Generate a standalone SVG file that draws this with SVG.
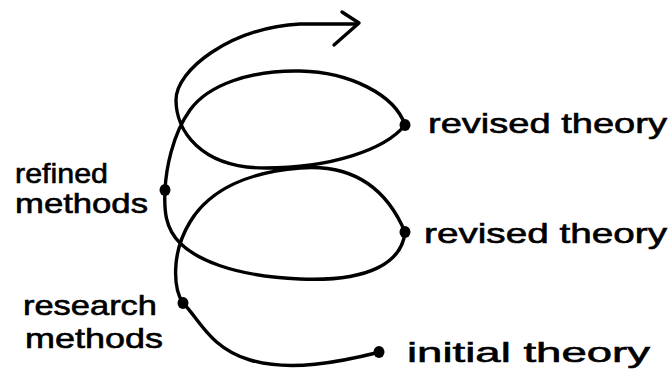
<svg xmlns="http://www.w3.org/2000/svg" width="670" height="379" viewBox="0 0 670 379">
<style>
.lbl{font-family:"Liberation Sans","DejaVu Sans",sans-serif;font-size:28px;fill:#000;stroke:#000;stroke-width:0.6}
.curve{fill:none;stroke:#000;stroke-width:3.4;stroke-linecap:round;stroke-linejoin:round}
.dot{fill:#000}
</style>
<rect width="670" height="379" fill="#fff"/>
<g id="connectors">
<path class="curve" d="M380,352 C340,362 290,372 250,360 S200,320 183,303 C174,290 170,255 190,222 S250,172 300,168 S385,185 405,232 C402,262 370,282 300,279 S195,258 180,243 S164,210 165,190 S172,135 190,110 S250,70 300,71 S395,95 405,125 C385,150 330,168 265,168 S176,130 176,100 S230,28 300,24 L357,24"/>
<polyline class="curve" points="342,12 359,23 334,45"/>
</g>
<g id="initial-theory">
<ellipse class="dot" cx="379" cy="352" rx="5.5" ry="6"/>
<text class="lbl" x="407" y="362" textLength="243" lengthAdjust="spacingAndGlyphs">initial theory</text>
</g>
<g id="research-methods">
<ellipse class="dot" cx="183" cy="303" rx="5.5" ry="6"/>
<text class="lbl" x="23" y="315" textLength="134" lengthAdjust="spacingAndGlyphs">research</text>
<text class="lbl" x="25" y="348" textLength="138" lengthAdjust="spacingAndGlyphs">methods</text>
</g>
<g id="revised-theory-1">
<ellipse class="dot" cx="405" cy="232" rx="5.5" ry="6"/>
<text class="lbl" x="424" y="243" textLength="243" lengthAdjust="spacingAndGlyphs">revised theory</text>
</g>
<g id="refined-methods">
<ellipse class="dot" cx="165" cy="190" rx="5.5" ry="6"/>
<text class="lbl" x="15" y="183" textLength="93" lengthAdjust="spacingAndGlyphs">refined</text>
<text class="lbl" x="15" y="213" textLength="133" lengthAdjust="spacingAndGlyphs">methods</text>
</g>
<g id="revised-theory-2">
<ellipse class="dot" cx="405" cy="125" rx="5.5" ry="6"/>
<text class="lbl" x="428" y="133" textLength="239" lengthAdjust="spacingAndGlyphs">revised theory</text>
</g>
</svg>
